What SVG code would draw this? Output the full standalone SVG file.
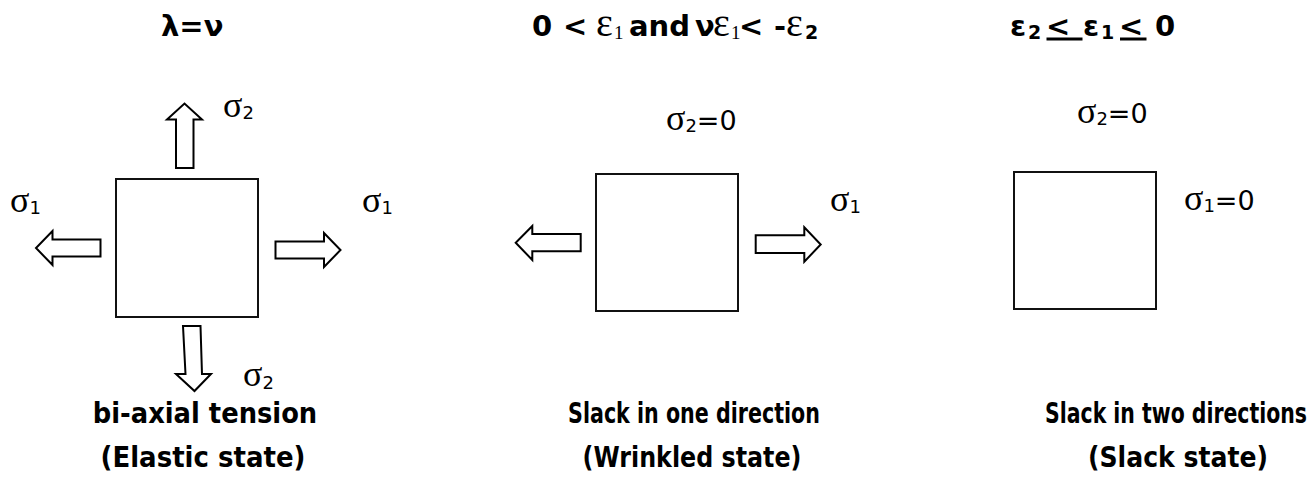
<svg xmlns="http://www.w3.org/2000/svg" width="1313" height="489" viewBox="0 0 1313 489">
<defs>
<style>
.box{fill:#fff;stroke:#111;stroke-width:2}
.arr{fill:#fff;stroke:#000;stroke-width:2;stroke-linejoin:miter}
.hd{font-family:"DejaVu Sans","Liberation Sans",sans-serif;font-weight:bold;font-size:29px;fill:#000}
.ft{font-family:"DejaVu Sans","Liberation Sans",sans-serif;font-weight:bold;font-size:28px;fill:#000;text-anchor:middle}
.sig{font-family:"Liberation Serif","DejaVu Serif",serif;font-size:36px;fill:#000}
.sub{font-family:"DejaVu Sans","Liberation Sans",sans-serif;font-size:18px}
.eq{font-family:"DejaVu Sans","Liberation Sans",sans-serif;font-size:27px}
.eps{font-family:"Liberation Serif","DejaVu Serif",serif;font-weight:normal;font-size:40px}
.esub{font-family:"Liberation Serif","DejaVu Serif",serif;font-weight:normal;font-size:19px}
.bsub{font-size:19px}
</style>
</defs>
<rect width="1313" height="489" fill="#fff"/>

<g id="headings">
<text class="hd" x="161" y="36">λ=ν</text>
<text class="hd" y="36"><tspan x="532">0</tspan><tspan x="563">&lt;</tspan><tspan class="eps" x="596">ε</tspan><tspan class="esub" x="614" dy="3">1</tspan><tspan x="629" dy="-3">and</tspan><tspan x="695">ν</tspan><tspan class="eps" x="713">ε</tspan><tspan class="esub" x="731" dy="3">1</tspan><tspan x="739" dy="-3">&lt;</tspan><tspan x="774">-</tspan><tspan class="eps" x="786">ε</tspan><tspan class="bsub" x="805" dy="3">2</tspan></text>
<text class="hd" y="36"><tspan x="1010">ε</tspan><tspan class="bsub" x="1028" dy="3">2</tspan><tspan x="1046" dy="-3">&lt;</tspan><tspan x="1083">ε</tspan><tspan class="bsub" x="1101" dy="3">1</tspan><tspan x="1119" dy="-3">&lt;</tspan><tspan x="1155">0</tspan></text>
<line x1="1046.5" y1="39" x2="1082.5" y2="39" stroke="#000" stroke-width="3"/>
<line x1="1120" y1="39" x2="1146.5" y2="39" stroke="#000" stroke-width="3"/>
</g>

<g id="node-elastic">
<rect class="box" x="116" y="179" width="142" height="138"/>
<text class="sig" x="223" y="117">σ<tspan class="sub" dy="2">2</tspan></text>
<text class="sig" x="10" y="212">σ<tspan class="sub" dy="2">1</tspan></text>
<text class="sig" x="362" y="212">σ<tspan class="sub" dy="2">1</tspan></text>
<text class="sig" x="243" y="386">σ<tspan class="sub" dy="3">2</tspan></text>
</g>

<g id="node-wrinkled">
<rect class="box" x="596" y="174" width="142" height="137"/>
<text class="sig" x="666" y="130">σ<tspan class="sub" dy="2">2</tspan><tspan class="eq" dy="-2">=0</tspan></text>
<text class="sig" x="830" y="211">σ<tspan class="sub" dy="2">1</tspan></text>
</g>

<g id="node-slack">
<rect class="box" x="1014" y="172" width="142" height="137"/>
<text class="sig" x="1077" y="123">σ<tspan class="sub" dy="2">2</tspan><tspan class="eq" dy="-2">=0</tspan></text>
<text class="sig" x="1184" y="210">σ<tspan class="sub" dy="2">1</tspan><tspan class="eq" dy="-2">=0</tspan></text>
</g>

<g id="connectors">
<polygon class="arr" points="176,168 176,119.5 167,119.5 184.5,103.5 202,119.5 193.5,119.5 193.5,168"/>
<polygon class="arr" points="100.5,239.5 52.5,239.5 52.5,231 36,248 52.5,265 52.5,256.5 100.5,256.5"/>
<polygon class="arr" points="275.5,241.5 324,241.5 324,233 340.5,250 324,267 324,258.5 275.5,258.5"/>
<polygon class="arr" points="183,326 200.5,326 202,374 211,374 194.5,391 176,374 185.5,374"/>
<polygon class="arr" points="580.7,234 532.3,234 532.3,226 515.7,242.7 532.3,260 532.3,251.3 580.7,251.3"/>
<polygon class="arr" points="755.7,235.3 804.3,235.3 804.3,227.3 820.7,244.5 804.3,261.7 804.3,253 755.7,253"/>
</g>

<g id="captions">
<text class="ft" transform="translate(205,423) scale(0.921,1)">bi-axial tension</text>
<text class="ft" transform="translate(203,467) scale(0.93,1)">(Elastic state)</text>
<text class="ft" transform="translate(694,423) scale(0.737,1)">Slack in one direction</text>
<text class="ft" transform="translate(692,467) scale(0.85,1)">(Wrinkled state)</text>
<text class="ft" transform="translate(1176,423) scale(0.73,1)">Slack in two directions</text>
<text class="ft" transform="translate(1178,467) scale(0.898,1)">(Slack state)</text>
</g>
</svg>
